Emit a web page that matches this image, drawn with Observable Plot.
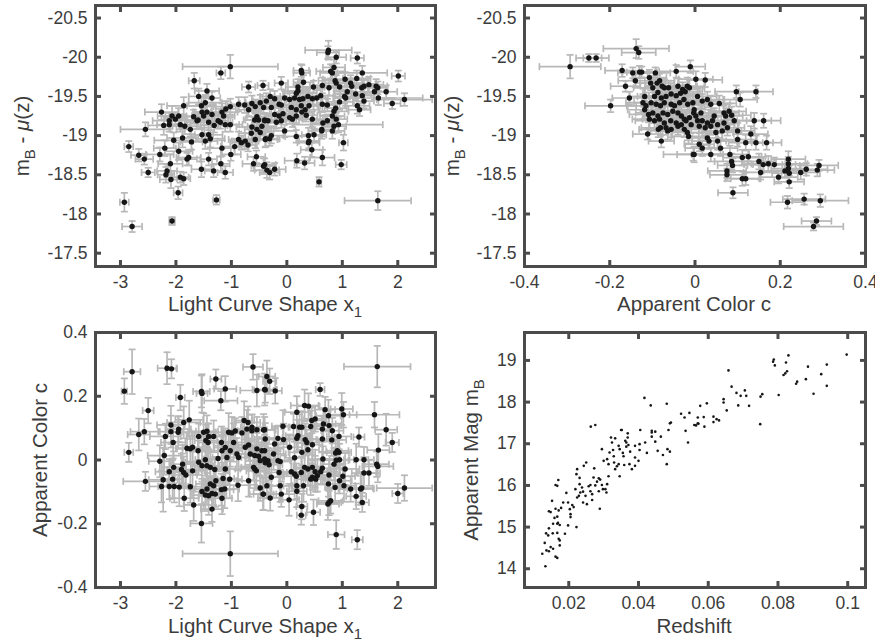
<!DOCTYPE html>
<html><head><meta charset="utf-8">
<script src="https://cdn.jsdelivr.net/npm/d3@7"></script>
<script src="https://cdn.jsdelivr.net/npm/@observablehq/plot@0.6"></script>
<style>
body{margin:0;background:#fff;}
#fig{position:relative;width:875px;height:641px;font-family:"Liberation Sans",Arial,sans-serif;overflow:hidden;}
#fig > div{position:absolute;}
</style></head><body><div id="fig"></div>
<script>
// Panel 1: light-curve shape x1 vs mB - mu(z)  [x1, mag, err x1, err mag]
const shapeVsMag = [
[-1.02,-19.88,0.86,0.15],[-1.19,-19.80,0.08,0.08],[-1.67,-19.70,0.10,0.10],[-1.44,-19.57,0.22,0.09],[-1.59,-19.50,0.18,0.10],
[-1.35,-19.48,0.15,0.08],[-0.69,-19.62,0.12,0.07],[-0.43,-19.64,0.10,0.06],[-2.26,-19.30,0.30,0.10],[-2.55,-19.08,0.45,0.09],
[-2.85,-18.86,0.08,0.07],[-2.67,-18.75,0.14,0.08],[-2.57,-18.70,0.16,0.07],[-2.50,-18.53,0.12,0.06],[-2.20,-18.84,0.20,0.10],
[-2.29,-18.76,0.25,0.09],[-2.10,-18.64,0.22,0.12],[-2.16,-18.55,0.18,0.08],[-2.18,-18.50,0.15,0.10],[-2.09,-18.44,0.20,0.11],
[-1.92,-18.47,0.15,0.07],[-1.86,-18.45,0.12,0.08],[-1.96,-18.27,0.08,0.08],[-2.93,-18.15,0.08,0.12],[-2.79,-17.84,0.18,0.07],
[-2.07,-17.91,0.05,0.05],[-1.27,-18.18,0.06,0.06],[-1.95,-18.80,0.25,0.11],[-2.04,-18.94,0.35,0.10],[-2.22,-19.13,0.28,0.12],
[-2.12,-19.14,0.22,0.09],[-2.12,-19.19,0.30,0.10],[-2.07,-19.25,0.26,0.13],[-2.01,-19.21,0.20,0.08],[-1.95,-19.25,0.24,0.10],
[-1.92,-19.14,0.18,0.09],[-1.86,-19.38,0.30,0.11],[-1.84,-19.12,0.22,0.10],[-1.74,-19.08,0.25,0.09],[-1.72,-18.92,0.20,0.10],
[-1.80,-18.70,0.18,0.08],[-1.77,-18.72,0.22,0.10],[-1.88,-18.97,0.28,0.12],[-1.68,-19.24,0.20,0.09],[-1.62,-19.19,0.18,0.10],
[-1.60,-19.20,0.24,0.08],[-1.54,-19.38,0.26,0.10],[-1.53,-19.30,0.16,0.09],[-1.50,-19.25,0.20,0.11],[-1.47,-19.42,0.30,0.10],
[-1.44,-19.30,0.22,0.08],[-1.41,-19.17,0.18,0.10],[-1.41,-19.01,0.25,0.09],[-1.41,-18.70,0.15,0.08],[-1.54,-18.57,0.18,0.10],
[-1.53,-19.01,0.20,0.09],[-1.47,-18.93,0.22,0.10],[-1.38,-18.96,0.26,0.11],[-1.32,-18.55,0.16,0.08],[-1.35,-19.27,0.20,0.10],
[-1.31,-19.13,0.24,0.09],[-1.24,-19.19,0.18,0.10],[-1.20,-19.17,0.22,0.08],[-1.17,-19.30,0.28,0.11],[-1.14,-19.25,0.20,0.10],
[-1.11,-19.14,0.25,0.09],[-1.10,-19.34,0.18,0.10],[-1.17,-18.84,0.22,0.10],[-1.19,-18.64,0.16,0.09],[-1.11,-18.53,0.14,0.08],
[-1.02,-19.37,0.30,0.10],[-1.02,-19.14,0.22,0.09],[-1.01,-18.76,0.18,0.08],[-0.94,-18.86,0.25,0.10],[-0.87,-19.40,0.20,0.09],
[-0.76,-19.39,0.24,0.10],[-0.69,-19.33,0.18,0.08],[-0.63,-19.41,0.22,0.10],[-0.57,-19.37,0.20,0.09],[-0.48,-19.42,0.26,0.10],
[-0.57,-18.95,0.22,0.11],[-0.87,-18.95,0.18,0.10],[-0.82,-18.91,0.20,0.09],[-0.75,-18.93,0.24,0.10],[-0.70,-18.88,0.16,0.08],
[-0.64,-19.03,0.22,0.10],[-0.63,-19.11,0.28,0.09],[-0.58,-19.20,0.20,0.10],[-0.54,-19.24,0.18,0.08],[-0.51,-19.20,0.24,0.11],
[-0.54,-19.08,0.22,0.10],[-0.48,-19.04,0.20,0.09],[-0.45,-19.12,0.26,0.10],[-0.40,-19.20,0.18,0.08],[-0.39,-18.95,0.22,0.10],
[-0.60,-18.64,0.20,0.09],[-0.55,-18.73,0.16,0.08],[-0.42,-18.61,0.22,0.10],
[0.75,-20.09,0.42,0.12],[0.74,-20.06,0.20,0.08],[0.89,-20.00,0.18,0.08],[1.27,-19.99,0.12,0.07],[2.01,-19.76,0.12,0.07],
[2.12,-19.46,0.50,0.08],[1.90,-19.41,0.15,0.07],[0.85,-19.87,0.20,0.10],[0.79,-19.82,0.26,0.09],[0.82,-19.80,0.22,0.10],
[0.87,-19.70,0.30,0.08],[0.89,-19.67,0.20,0.10],[1.05,-19.72,0.40,0.09],[1.15,-19.67,0.22,0.10],[1.17,-19.63,0.18,0.08],
[1.26,-19.73,0.25,0.10],[1.36,-19.80,0.45,0.09],[1.35,-19.61,0.20,0.10],[1.39,-19.63,0.22,0.08],[1.48,-19.65,0.26,0.10],
[1.61,-19.63,0.20,0.09],[1.64,-19.61,0.18,0.08],[1.58,-19.56,0.22,0.10],[1.65,-19.48,0.80,0.09],[1.79,-19.56,0.20,0.08],
[1.09,-19.56,0.24,0.10],[1.04,-19.50,0.20,0.09],[1.06,-19.48,0.22,0.10],[1.24,-19.53,0.28,0.08],[1.36,-19.51,0.20,0.10],
[1.39,-19.44,0.18,0.09],[1.27,-19.38,0.22,0.10],[1.31,-19.33,0.20,0.08],[0.95,-19.43,0.24,0.10],[0.95,-19.62,0.20,0.09],
[0.76,-19.61,0.22,0.10],[0.30,-19.68,0.18,0.09],[0.27,-19.80,0.15,0.10],[0.26,-19.83,0.14,0.08],[-0.10,-19.67,0.12,0.08],
[0.20,-19.62,0.22,0.10],[0.20,-19.57,0.18,0.09],[0.17,-19.54,0.24,0.10],[0.48,-19.62,0.20,0.08],[0.64,-19.64,0.22,0.10],
[0.61,-19.51,0.26,0.09],[0.54,-19.48,0.20,0.10],[0.46,-19.47,0.18,0.08],[0.38,-19.50,0.22,0.10],[0.29,-19.47,0.20,0.09],
[0.23,-19.46,0.24,0.10],[0.14,-19.48,0.18,0.08],[0.05,-19.46,0.22,0.10],[-0.04,-19.48,0.20,0.09],[-0.14,-19.40,0.26,0.10],
[-0.10,-19.39,0.20,0.08],[-0.22,-19.47,0.22,0.10],[-0.30,-19.50,0.18,0.09],[-0.37,-19.44,0.24,0.10],[-0.42,-19.36,0.20,0.08],
[-0.28,-19.36,0.22,0.10],[0.08,-19.36,0.20,0.09],[0.17,-19.33,0.18,0.10],[0.26,-19.38,0.22,0.08],[0.33,-19.33,0.24,0.10],
[0.40,-19.38,0.20,0.09],[0.64,-19.40,0.22,0.10],[0.73,-19.39,0.18,0.08],[0.85,-19.31,0.26,0.10],[0.88,-19.35,0.20,0.09],
[0.82,-19.25,0.22,0.10],[0.89,-19.21,0.20,0.08],[0.93,-19.14,0.80,0.10],[0.85,-19.12,0.22,0.09],[0.82,-19.06,0.22,0.10],
[0.73,-19.19,0.20,0.08],[0.65,-19.16,0.22,0.10],[0.63,-19.08,0.18,0.09],[0.46,-19.21,0.24,0.10],[0.35,-19.26,0.20,0.08],
[0.27,-19.30,0.22,0.10],[0.17,-19.25,0.20,0.09],[0.10,-19.21,0.18,0.10],[0.05,-19.23,0.22,0.08],[-0.07,-19.28,0.24,0.10],
[-0.10,-19.19,0.20,0.09],[-0.14,-19.25,0.22,0.10],[-0.19,-19.17,0.18,0.08],[-0.22,-19.27,0.26,0.10],[-0.34,-19.19,0.20,0.09],
[-0.40,-19.19,0.22,0.10],[-0.04,-19.06,0.20,0.08],[-0.28,-19.00,0.22,0.10],[-0.31,-18.96,0.18,0.09],[-0.38,-18.96,0.24,0.10],
[0.17,-18.99,0.20,0.08],[0.39,-19.00,0.22,0.10],[0.40,-18.93,0.18,0.09],[0.39,-18.91,0.20,0.10],[0.49,-19.01,0.22,0.08],
[0.63,-19.06,0.24,0.10],[0.45,-18.82,0.20,0.09],[0.64,-18.72,0.22,0.10],[1.02,-18.91,0.08,0.10],[0.98,-18.63,0.10,0.06],
[0.18,-18.68,0.22,0.09],[0.32,-18.65,0.18,0.08],[0.58,-18.41,0.04,0.06],[1.64,-18.17,0.60,0.12],[-0.22,-18.57,0.20,0.08],
[-0.31,-18.53,0.18,0.09],[-0.36,-18.56,0.22,0.10],[-0.40,-18.63,0.20,0.08]
];

// Panel 2: apparent colour c vs mB - mu(z)  [c, mag, err c, err mag]
const colorVsMag = [
[-0.293,-19.88,0.072,0.15],[-0.249,-19.99,0.030,0.05],[-0.232,-19.99,0.030,0.05],[-0.138,-20.11,0.077,0.12],[-0.132,-20.06,0.040,0.08],
[-0.171,-19.83,0.040,0.08],[-0.198,-19.38,0.060,0.08],[-0.163,-19.63,0.035,0.07],[-0.154,-19.48,0.040,0.08],[-0.146,-19.80,0.035,0.07],
[-0.130,-19.81,0.040,0.08],[-0.125,-19.81,0.035,0.07],[-0.140,-19.70,0.040,0.08],[-0.111,-19.02,0.035,0.07],[-0.079,-18.93,0.030,0.08],
[-0.011,-19.88,0.035,0.08],[-0.044,-19.82,0.040,0.08],[-0.093,-19.80,0.035,0.07],[-0.004,-18.76,0.070,0.08],
[-0.107,-19.74,0.040,0.10],[-0.104,-19.67,0.035,0.09],[-0.099,-19.61,0.045,0.11],[-0.089,-19.67,0.040,0.10],[-0.083,-19.70,0.035,0.09],
[-0.077,-19.63,0.040,0.10],[-0.072,-19.61,0.045,0.11],[-0.062,-19.61,0.040,0.09],[-0.087,-19.55,0.035,0.10],[-0.095,-19.50,0.040,0.11],
[-0.079,-19.48,0.045,0.10],[-0.068,-19.50,0.040,0.09],[-0.056,-19.53,0.035,0.10],[-0.044,-19.51,0.040,0.11],[-0.034,-19.54,0.045,0.10],
[-0.023,-19.56,0.040,0.09],[-0.013,-19.61,0.035,0.10],[-0.018,-19.63,0.040,0.11],[-0.040,-19.63,0.045,0.10],[-0.029,-19.59,0.040,0.09],
[-0.118,-19.50,0.035,0.10],[-0.122,-19.42,0.040,0.11],[-0.115,-19.38,0.045,0.10],[-0.103,-19.42,0.040,0.09],[-0.091,-19.40,0.035,0.10],
[-0.081,-19.38,0.040,0.11],[-0.072,-19.42,0.045,0.10],[-0.056,-19.40,0.040,0.09],[-0.048,-19.38,0.035,0.10],[-0.036,-19.42,0.040,0.11],
[-0.026,-19.46,0.045,0.10],[-0.017,-19.40,0.040,0.09],[-0.005,-19.42,0.035,0.10],[-0.118,-19.33,0.040,0.11],[-0.109,-19.27,0.045,0.10],
[-0.099,-19.29,0.040,0.09],[-0.087,-19.25,0.035,0.10],[-0.075,-19.29,0.040,0.11],[-0.064,-19.27,0.045,0.10],[-0.052,-19.31,0.040,0.09],
[-0.040,-19.29,0.035,0.10],[-0.032,-19.25,0.040,0.11],[-0.025,-19.21,0.045,0.10],[-0.013,-19.23,0.040,0.09],[-0.003,-19.29,0.035,0.10],
[-0.107,-19.21,0.040,0.11],[-0.095,-19.19,0.045,0.10],[-0.083,-19.21,0.040,0.09],[-0.072,-19.16,0.035,0.10],[-0.057,-19.19,0.040,0.11],
[-0.044,-19.16,0.045,0.10],[-0.032,-19.14,0.040,0.09],[-0.021,-19.19,0.035,0.10],[-0.009,-19.14,0.040,0.11],[-0.081,-19.10,0.045,0.10],
[-0.068,-19.10,0.040,0.09],[-0.056,-19.08,0.035,0.10],[-0.040,-19.12,0.040,0.11],[-0.025,-19.08,0.045,0.10],[-0.015,-18.99,0.040,0.09],
[-0.018,-19.04,0.035,0.10],[-0.064,-19.06,0.040,0.11],[-0.086,-19.08,0.045,0.10],
[0.097,-19.56,0.050,0.08],[0.143,-19.56,0.040,0.08],[0.106,-19.46,0.040,0.09],[0.139,-19.19,0.040,0.10],[0.161,-19.19,0.040,0.09],
[0.131,-19.02,0.040,0.10],[0.168,-18.91,0.035,0.09],[0.100,-19.06,0.040,0.10],[0.100,-18.95,0.045,0.09],[0.119,-18.91,0.040,0.10],
[0.143,-18.91,0.040,0.09],[0.111,-18.72,0.045,0.10],[0.125,-18.73,0.040,0.09],[0.150,-18.67,0.040,0.10],[0.160,-18.63,0.045,0.09],
[0.172,-18.64,0.040,0.10],[0.186,-18.63,0.050,0.09],[0.219,-18.70,0.040,0.10],[0.219,-18.64,0.045,0.09],[0.219,-18.58,0.040,0.10],
[0.211,-18.55,0.050,0.09],[0.196,-18.47,0.045,0.08],[0.154,-18.53,0.040,0.09],[0.221,-18.52,0.040,0.10],[0.221,-18.41,0.035,0.08],
[0.248,-18.53,0.045,0.09],[0.261,-18.57,0.050,0.08],[0.287,-18.56,0.040,0.08],[0.291,-18.62,0.045,0.07],[0.089,-18.27,0.035,0.07],
[0.075,-18.55,0.045,0.09],[0.075,-18.50,0.040,0.08],[0.111,-18.45,0.040,0.09],[0.119,-18.45,0.035,0.08],[0.217,-18.15,0.040,0.08],
[0.256,-18.19,0.050,0.07],[0.294,-18.17,0.066,0.08],[0.285,-17.91,0.035,0.05],[0.278,-17.84,0.070,0.05],[0.002,-19.72,0.040,0.10],
[0.024,-19.71,0.040,0.09],[0.037,-18.76,0.045,0.09],[-0.002,-18.76,0.040,0.10],[0.006,-19.50,0.045,0.10],[0.017,-19.44,0.040,0.09],
[0.029,-19.46,0.040,0.10],[0.037,-19.40,0.045,0.11],[0.057,-19.41,0.040,0.10],[0.068,-19.29,0.035,0.09],[0.080,-19.31,0.040,0.10],
[0.086,-19.26,0.045,0.11],[0.045,-19.25,0.040,0.10],[0.041,-19.19,0.035,0.09],[0.029,-19.16,0.040,0.10],[0.017,-19.19,0.045,0.11],
[0.006,-19.19,0.040,0.10],[0.010,-19.12,0.035,0.09],[0.024,-19.10,0.040,0.10],[0.037,-19.12,0.045,0.11],[0.053,-19.14,0.040,0.10],
[0.068,-19.16,0.035,0.09],[0.076,-19.10,0.040,0.10],[0.064,-19.06,0.045,0.11],[0.049,-19.04,0.040,0.10],[0.029,-18.97,0.035,0.09],
[0.033,-18.93,0.040,0.10],[0.053,-18.93,0.045,0.11],[0.017,-18.84,0.040,0.10],[0.010,-18.89,0.035,0.09],[0.060,-18.84,0.040,0.10],
[0.082,-18.76,0.045,0.11],[0.086,-18.67,0.040,0.10],[0.088,-18.62,0.035,0.09],[-0.002,-19.33,0.040,0.10],[0.092,-19.19,0.045,0.11],
[0.072,-19.25,0.040,0.10],[0.014,-19.29,0.035,0.09],[0.002,-19.25,0.040,0.10]
];

// Panel 3: light-curve shape x1 vs apparent colour c  [x1, c, err x1, err c]
const shapeVsColor = [
[-2.79,0.277,0.15,0.07],[-2.93,0.216,0.05,0.04],[-2.16,0.288,0.17,0.05],[-2.08,0.286,0.10,0.03],[-1.28,0.254,0.10,0.03],
[-1.11,0.223,0.20,0.04],[-1.54,0.215,0.15,0.05],[-1.53,0.209,0.10,0.06],[-1.19,0.186,0.30,0.03],[-1.92,0.196,0.08,0.04],
[-2.50,0.155,0.10,0.04],[-0.61,0.292,0.18,0.04],[-0.54,0.218,0.30,0.05],[-0.39,0.220,0.20,0.04],[-2.85,0.024,0.08,0.03],
[-2.67,0.080,0.20,0.05],[-2.57,0.089,0.25,0.04],[-2.55,-0.067,0.40,0.03],[-1.02,-0.294,0.86,0.07],[-1.54,-0.199,0.20,0.06],
[-1.76,0.126,0.25,0.06],[-1.86,0.118,0.30,0.05],[-1.95,0.097,0.22,0.04],[-1.96,0.087,0.18,0.05],[-2.09,0.110,0.25,0.06],
[-2.09,0.089,0.20,0.05],[-2.19,0.074,0.28,0.04],[-2.05,0.055,0.22,0.05],[-2.21,0.014,0.30,0.06],[-2.29,-0.004,0.20,0.05],
[-2.12,-0.037,0.25,0.04],[-2.04,-0.023,0.22,0.05],[-2.06,-0.060,0.18,0.06],[-2.23,-0.062,0.26,0.10],[-2.26,-0.083,0.22,0.05],
[-2.12,-0.083,0.20,0.04],[-2.03,-0.083,0.25,0.05],[-1.94,-0.085,0.18,0.06],[-1.86,-0.039,0.22,0.05],[-1.82,-0.047,0.20,0.04],
[-1.90,-0.030,0.26,0.05],[-1.88,-0.013,0.22,0.06],[-1.80,0.037,0.20,0.05],[-1.74,0.035,0.24,0.04],[-1.70,0.040,0.18,0.05],
[-1.60,0.029,0.22,0.06],[-1.74,-0.084,0.20,0.05],[-1.85,-0.120,0.26,0.04],[-1.68,-0.141,0.18,0.05],[-1.70,-0.034,0.22,0.06],
[-1.53,-0.018,0.20,0.05],[-1.59,-0.007,0.24,0.04],[-1.47,0.001,0.18,0.05],[-1.50,0.087,0.22,0.06],[-1.44,0.090,0.20,0.05],
[-1.41,0.074,0.26,0.04],[-1.32,0.074,0.22,0.05],[-1.42,0.055,0.18,0.06],[-1.46,0.061,0.20,0.05],[-1.59,0.074,0.22,0.04],
[-1.18,0.055,0.24,0.05],[-1.11,0.039,0.20,0.06],[-1.17,0.029,0.22,0.05],[-1.24,0.005,0.18,0.04],[-1.08,0.008,0.26,0.05],
[-1.44,-0.018,0.22,0.06],[-1.38,-0.023,0.20,0.05],[-1.30,-0.030,0.24,0.04],[-1.11,-0.028,0.18,0.05],[-1.03,-0.060,0.22,0.06],
[-1.15,-0.058,0.20,0.05],[-1.28,-0.065,0.22,0.04],[-1.38,-0.075,0.26,0.05],[-1.32,-0.081,0.18,0.06],[-1.44,-0.091,0.22,0.05],
[-1.53,-0.099,0.20,0.04],[-1.47,-0.110,0.24,0.05],[-1.41,-0.112,0.18,0.06],[-1.35,-0.105,0.22,0.05],[-1.29,-0.107,0.20,0.04],
[-1.18,-0.093,0.22,0.05],[-1.12,-0.091,0.26,0.06],[-1.17,-0.120,0.18,0.05],[-1.35,-0.154,0.20,0.04],[-0.88,-0.079,0.22,0.05],
[-1.05,0.087,0.24,0.06],[-0.99,0.085,0.18,0.05],[-0.93,0.091,0.22,0.04],[-0.81,0.085,0.20,0.05],[-0.72,0.097,0.22,0.06],
[-0.63,0.092,0.26,0.05],[-0.54,0.095,0.18,0.04],[-0.42,0.094,0.22,0.05],[-0.96,0.055,0.20,0.06],[-0.90,0.019,0.24,0.05],
[-0.87,0.008,0.18,0.04],[-1.02,0.029,0.22,0.05],[-0.75,0.040,0.20,0.06],[-0.69,0.047,0.22,0.05],[-0.66,0.019,0.26,0.04],
[-0.58,0.014,0.18,0.05],[-0.51,0.012,0.22,0.06],[-0.54,0.035,0.20,0.05],[-0.45,0.029,0.24,0.04],[-0.48,-0.002,0.18,0.05],
[-0.39,-0.009,0.22,0.06],[-0.39,0.066,0.20,0.05],[-0.60,-0.023,0.22,0.04],[-0.58,-0.028,0.26,0.05],[-0.55,-0.034,0.18,0.06],
[-0.69,-0.065,0.22,0.05],[-0.48,-0.088,0.20,0.04],[-0.43,-0.107,0.24,0.05],[-0.77,0.124,0.18,0.06],[-0.70,0.118,0.22,0.05],
[-0.63,0.103,0.20,0.04],
[1.63,0.293,0.60,0.065],[1.58,0.142,0.45,0.04],[1.79,0.095,0.20,0.05],[1.90,0.055,0.12,0.03],[2.12,-0.088,0.50,0.04],
[2.00,-0.105,0.10,0.03],[0.89,-0.234,0.15,0.045],[1.27,-0.250,0.10,0.03],[0.26,-0.173,0.08,0.03],[0.27,-0.146,0.10,0.04],
[0.48,-0.164,0.12,0.04],[0.60,0.221,0.08,0.02],[-0.36,0.262,0.15,0.05],[-0.31,0.247,0.12,0.04],[-0.40,0.221,0.22,0.05],
[-0.21,0.217,0.12,0.04],[0.32,0.171,0.25,0.05],[0.39,0.169,0.20,0.04],[0.18,0.150,0.22,0.05],[0.69,0.158,0.18,0.04],
[0.99,0.160,0.20,0.05],[1.02,0.142,0.24,0.04],[0.75,0.139,0.22,0.05],[1.30,0.072,0.10,0.03],[1.65,0.031,0.20,0.05],
[1.62,-0.013,0.22,0.04],[1.64,-0.020,0.28,0.05],[1.48,-0.041,0.20,0.04],[1.39,-0.041,0.22,0.05],[1.39,0.001,0.18,0.04],
[1.25,0.001,0.22,0.05],[1.35,-0.088,0.20,0.05],[1.25,-0.114,0.18,0.04],[1.36,-0.133,0.12,0.03],[1.33,-0.091,0.24,0.05],
[1.15,-0.091,0.22,0.04],[1.03,-0.081,0.20,0.05],[1.01,-0.051,0.22,0.04],[1.05,-0.028,0.26,0.05],[0.94,0.024,0.22,0.04],
[0.91,0.029,0.20,0.05],[0.88,0.022,0.24,0.04],[0.95,0.001,0.18,0.05],[0.89,-0.001,0.22,0.04],[0.85,-0.013,0.20,0.05],
[0.94,0.074,0.22,0.04],[0.81,0.063,0.26,0.05],[0.82,0.092,0.20,0.04],[0.76,0.108,0.22,0.05],[0.64,0.097,0.18,0.04],
[0.66,0.113,0.22,0.05],[0.51,0.129,0.20,0.04],[0.43,0.105,0.24,0.05],[0.45,0.124,0.18,0.04],[0.27,0.103,0.22,0.05],
[0.23,0.103,0.20,0.04],[0.20,0.076,0.22,0.05],[0.18,0.068,0.26,0.04],[0.33,0.064,0.20,0.05],[0.36,0.055,0.22,0.04],
[0.46,0.048,0.18,0.05],[0.64,0.066,0.22,0.04],[0.38,0.032,0.20,0.05],[0.27,0.024,0.24,0.04],[0.14,0.007,0.18,0.05],
[0.05,0.040,0.22,0.04],[-0.07,0.106,0.20,0.05],[0.12,0.105,0.22,0.04],[-0.06,0.064,0.26,0.05],[-0.16,0.068,0.20,0.04],
[-0.22,0.050,0.22,0.05],[-0.40,0.095,0.18,0.04],[-0.40,0.029,0.22,0.05],[-0.40,0.003,0.20,0.04],[-0.32,-0.015,0.24,0.05],
[-0.34,-0.002,0.18,0.04],[-0.16,-0.002,0.22,0.05],[-0.12,-0.005,0.20,0.04],[-0.24,0.019,0.22,0.05],[-0.14,-0.039,0.26,0.04],
[-0.28,-0.054,0.20,0.05],[-0.36,-0.081,0.22,0.04],[-0.42,-0.107,0.18,0.05],[-0.30,-0.119,0.22,0.04],[-0.12,-0.081,0.20,0.05],
[-0.10,-0.107,0.24,0.04],[0.04,-0.125,0.18,0.05],[0.08,-0.037,0.22,0.04],[0.14,-0.044,0.20,0.05],[0.17,-0.051,0.22,0.04],
[0.26,-0.039,0.26,0.05],[0.32,-0.023,0.20,0.04],[0.38,-0.028,0.22,0.05],[0.46,-0.023,0.18,0.04],[0.51,-0.037,0.22,0.05],
[0.46,-0.054,0.20,0.04],[0.43,-0.060,0.24,0.05],[0.52,-0.060,0.18,0.04],[0.55,-0.049,0.22,0.05],[0.61,-0.037,0.20,0.04],
[0.64,-0.026,0.22,0.05],[0.65,0.003,0.26,0.04],[0.76,-0.047,0.20,0.05],[0.75,-0.075,0.22,0.04],[0.87,-0.086,0.18,0.05],
[0.95,-0.065,0.22,0.04],[0.30,-0.081,0.20,0.05],[0.18,-0.081,0.24,0.04],[0.18,-0.098,0.18,0.05],[0.76,-0.133,0.22,0.04],
[0.74,-0.138,0.20,0.05],[0.79,-0.128,0.22,0.04]
];

// Panel 4: redshift vs apparent magnitude mB  [z, mB]
const redshiftVsMag = [
[0.0133,14.06],[0.0124,14.36],[0.0136,14.44],[0.0143,14.42],[0.0131,14.62],[0.0148,14.52],[0.0155,14.48],[0.0135,14.85],
[0.0141,14.80],[0.0162,14.29],[0.0167,14.26],[0.0174,14.56],[0.0171,14.72],[0.0174,14.68],[0.0154,14.85],[0.0167,14.86],
[0.0155,15.08],[0.0167,15.08],[0.0174,15.05],[0.0169,15.10],[0.0143,14.97],[0.0189,14.84],[0.0198,15.04],[0.0159,15.22],
[0.0167,15.25],[0.0152,15.63],[0.0143,15.38],[0.0148,15.36],[0.0162,15.44],[0.0171,15.40],[0.0178,15.46],[0.0162,16.01],
[0.0167,15.99],[0.0170,16.13],[0.0193,15.82],[0.0198,15.59],[0.0203,15.43],[0.0205,15.24],[0.0222,15.00],[0.0184,15.59],
[0.0205,15.31],[0.0210,15.53],[0.0214,15.48],[0.0219,15.91],[0.0224,15.71],[0.0224,16.39],[0.0222,16.27],[0.0229,15.75],
[0.0233,15.83],[0.0231,16.18],[0.0231,16.03],[0.0238,15.95],[0.0241,15.85],[0.0241,15.59],[0.0243,16.47],[0.0248,15.75],
[0.0252,15.55],[0.0250,16.55],[0.0257,15.98],[0.0262,16.01],[0.0262,15.86],[0.0267,15.79],[0.0267,15.65],[0.0271,16.19],
[0.0273,16.41],[0.0263,17.41],[0.0276,17.45],[0.0276,16.00],[0.0281,16.09],[0.0289,15.44],[0.0286,15.86],[0.0286,16.17],
[0.0290,16.14],[0.0295,16.87],[0.0295,16.01],[0.0298,15.91],[0.0305,15.91],[0.0308,15.83],[0.0310,16.03],[0.0314,16.22],
[0.0300,16.59],[0.0310,16.63],[0.0314,16.51],[0.0317,16.79],[0.0321,17.15],[0.0324,17.03],[0.0327,16.85],[0.0329,16.70],
[0.0333,17.13],[0.0330,16.55],[0.0333,16.39],[0.0338,16.46],[0.0343,16.51],[0.0343,16.95],[0.0346,16.87],[0.0346,16.22],
[0.0350,17.33],[0.0352,17.33],[0.0355,16.78],[0.0357,16.70],[0.0359,16.49],[0.0362,17.07],[0.0365,17.03],[0.0365,16.93],
[0.0369,17.15],[0.0371,16.97],[0.0369,17.25],[0.0374,16.51],[0.0376,16.81],[0.0381,16.39],[0.0390,16.95],[0.0403,16.99],
[0.0403,16.85],[0.0390,16.67],[0.0400,16.59],[0.0390,16.47],[0.0405,17.33],[0.0417,18.10],[0.0435,17.92],[0.0419,17.03],
[0.0424,16.78],[0.0438,17.31],[0.0438,17.27],[0.0448,17.29],[0.0448,17.05],[0.0438,17.17],[0.0455,16.83],[0.0464,17.17],
[0.0470,16.73],[0.0483,16.87],[0.0490,16.81],[0.0481,16.51],[0.0481,17.96],[0.0486,17.33],[0.0490,17.49],[0.0493,17.51],
[0.0522,17.72],[0.0532,17.63],[0.0546,17.74],[0.0542,17.03],[0.0535,17.31],[0.0560,17.45],
[0.0565,17.44],[0.0570,17.49],[0.0572,17.48],[0.0570,17.63],[0.0587,17.64],[0.0589,17.41],[0.0577,17.91],[0.0596,17.97],
[0.0615,17.65],[0.0615,17.52],[0.0624,17.59],[0.0631,17.56],[0.0644,18.07],[0.0644,17.99],[0.0653,17.80],[0.0658,18.76],
[0.0667,18.37],[0.0681,18.22],[0.0686,17.92],[0.0693,18.15],[0.0705,18.28],[0.0709,18.15],[0.0717,17.91],[0.0750,18.13],
[0.0755,18.19],[0.0749,17.47],[0.0786,18.97],[0.0788,19.02],[0.0791,18.88],[0.0802,18.17],[0.0816,18.65],[0.0821,18.69],
[0.0826,18.74],[0.0823,18.95],[0.0830,19.12],[0.0852,18.44],[0.0855,18.49],[0.0880,18.55],[0.0886,18.85],[0.0902,18.20],
[0.0924,18.67],[0.0940,18.90],[0.0940,18.39],[0.0997,19.14]
];

// Tick values
const shapeTicks = [-3,-2,-1,0,1,2];
const magTicks = [-20.5,-20,-19.5,-19,-18.5,-18,-17.5];
const colorTicks = [-0.4,-0.2,0,0.2,0.4];
const redshiftTicks = [0.02,0.04,0.06,0.08,0.1];
const appMagTicks = [14,15,16,17,18,19];

const FRAME = "#4b4b4b", TEXT = "#3c3c3c", ERR = "#b8b8b8", DOT = "#161616";
const FONT = "'Liberation Sans', Arial, sans-serif";
const hcap = {draw(ctx){ ctx.moveTo(-3.5,0); ctx.lineTo(3.5,0); }};
const vcap = {draw(ctx){ ctx.moveTo(0,-3.5); ctx.lineTo(0,3.5); }};

function errorMarks(data) {
  const s = {stroke: ERR, strokeWidth: 1.7, clip: true};
  return [
    Plot.ruleY(data, {x1: d => d[0]-d[2], x2: d => d[0]+d[2], y: d => d[1], ...s}),
    Plot.ruleX(data, {x: d => d[0], y1: d => d[1]-d[3], y2: d => d[1]+d[3], ...s}),
    Plot.dot(data, {x: d => d[0]-d[2], y: d => d[1], symbol: vcap, fill: "none", ...s}),
    Plot.dot(data, {x: d => d[0]+d[2], y: d => d[1], symbol: vcap, fill: "none", ...s}),
    Plot.dot(data, {x: d => d[0], y: d => d[1]-d[3], symbol: hcap, fill: "none", ...s}),
    Plot.dot(data, {x: d => d[0], y: d => d[1]+d[3], symbol: hcap, fill: "none", ...s})
  ];
}

function axisMarks(xt, yt) {
  const fmt = d => String(d);
  const txt = {tickSize: 0, fontSize: 17.5, color: TEXT, label: null, tickFormat: fmt};
  const tk = {tickSize: -6, strokeWidth: 3, color: FRAME, label: null, tickFormat: () => ""};
  return [
    Plot.axisX(xt, {anchor: "bottom", tickPadding: 9, ...txt}),
    Plot.axisY(yt, {anchor: "left", tickPadding: 8, ...txt}),
    Plot.axisX(xt, {anchor: "bottom", ...tk}),
    Plot.axisX(xt, {anchor: "top", ...tk}),
    Plot.axisY(yt, {anchor: "left", ...tk}),
    Plot.axisY(yt, {anchor: "right", ...tk}),
    Plot.frame({stroke: FRAME, strokeWidth: 3})
  ];
}

function addLabel(svg, x, y, rotate, parts) {
  const t = d3.select(svg).append("text")
    .attr("transform", `translate(${x},${y})` + (rotate ? " rotate(-90)" : ""))
    .attr("text-anchor", "middle").attr("fill", TEXT)
    .attr("font-family", FONT).attr("font-size", 20.5);
  for (const p of parts) {
    const s = t.append("tspan").text(p.t);
    if (p.sub) s.attr("font-size", 15).attr("dy", 6);
    if (p.up) s.attr("dy", -6);
    if (p.it) s.attr("font-style", "italic");
  }
}

function panel(left, top, w, h, m, xDomain, yDomain, xt, yt, marks, xl, yl) {
  const div = document.createElement("div");
  div.style.left = left + "px"; div.style.top = top + "px";
  const svg = Plot.plot({
    width: w, height: h,
    marginLeft: m[0], marginRight: m[1], marginTop: m[2], marginBottom: m[3],
    x: {type: "linear", domain: xDomain},
    y: {type: "linear", domain: yDomain},
    style: {fontFamily: FONT, background: "white", overflow: "visible"},
    marks: [...marks, ...axisMarks(xt, yt)]
  });
  addLabel(svg, xl.x, xl.y, false, xl.parts);
  addLabel(svg, yl.x, yl.y, true, yl.parts);
  div.appendChild(svg);
  document.getElementById("fig").appendChild(div);
}

const magLabel = [{t: "m"}, {t: "B", sub: true}, {t: " - ", up: true}, {t: "μ", it: true}, {t: "(z)"}];
const shapeLabel = [{t: "Light Curve Shape x"}, {t: "1", sub: true}];

const dotsBig = data => Plot.dot(data, {x: d => d[0], y: d => d[1], r: 2.7, fill: DOT, clip: true});

panel(0, 0, 437, 320, [95, 2, 5, 54], [-3.45, 2.68], [-17.33, -20.66], shapeTicks, magTicks,
  [...errorMarks(shapeVsMag), dotsBig(shapeVsMag)],
  {x: 265, y: 311, parts: shapeLabel}, {x: 29, y: 136, parts: magLabel});

panel(437, 0, 438, 320, [87, 10, 5, 54], [-0.4, 0.4], [-17.33, -20.66], colorTicks, magTicks,
  [...errorMarks(colorVsMag), dotsBig(colorVsMag)],
  {x: 257, y: 311, parts: [{t: "Apparent Color c"}]}, {x: 22, y: 136, parts: magLabel});

panel(0, 320, 437, 321, [95, 2, 12, 54], [-3.45, 2.68], [-0.4, 0.4], shapeTicks, colorTicks,
  [...errorMarks(shapeVsColor), dotsBig(shapeVsColor)],
  {x: 265, y: 313, parts: shapeLabel}, {x: 47, y: 140, parts: [{t: "Apparent Color c"}]});

panel(437, 320, 438, 321, [87, 10, 12, 54], [0.0073, 0.1051], [13.55, 19.67], redshiftTicks, appMagTicks,
  [Plot.dot(redshiftVsMag, {x: d => d[0], y: d => d[1], r: 1.3, fill: DOT, clip: true})],
  {x: 257, y: 313, parts: [{t: "Redshift"}]}, {x: 41, y: 140, parts: [{t: "Apparent Mag m"}, {t: "B", sub: true}]});
</script></body></html>
